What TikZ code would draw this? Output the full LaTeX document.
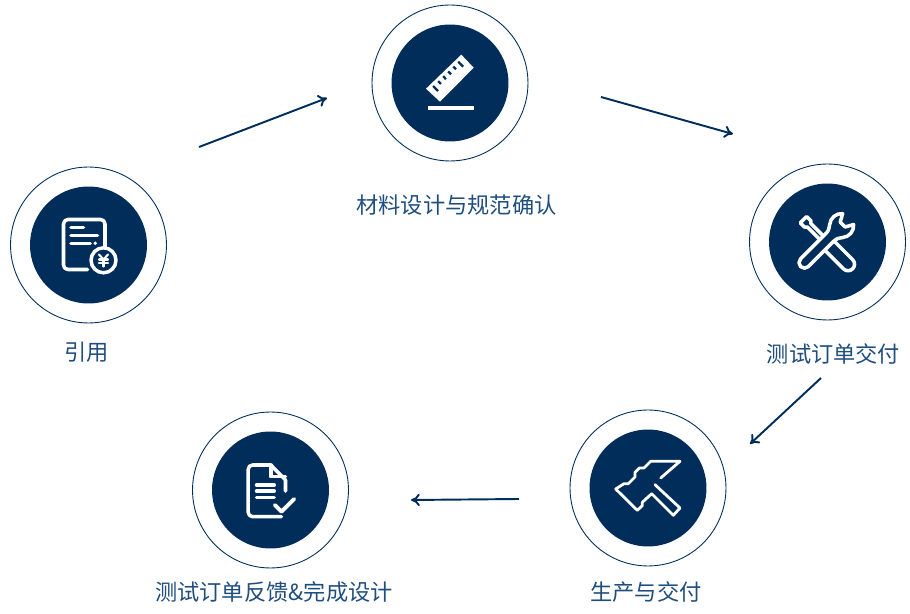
\documentclass[tikz,border=0pt]{standalone}
\usepackage{fontspec}
\usetikzlibrary{arrows.meta}
\newfontfamily\cjk{Noto Sans CJK SC}
\definecolor{navy}{HTML}{002D5A}
\definecolor{labelblue}{HTML}{1F4E7E}
\tikzset{
  font={\cjk\fontsize{12.65pt}{14pt}\selectfont},
  ring/.style={circle,draw=navy,line width=0.5pt,minimum size=156*0.569pt,inner sep=0pt},
  disc/.style={circle,fill=navy,minimum size=117*0.569pt,inner sep=0pt},
  steplabel/.style={text=labelblue,inner sep=0pt},
  flow/.style={navy,line width=1.1pt,-{To[length=5pt,width=7pt]}},
  icon/.style={draw=white,line width=2pt,line cap=round,line join=round}
}
\begin{document}
\begin{tikzpicture}[x=0.02cm,y=0.02cm]
\useasboundingbox (0,0) rectangle (910,-614);
% stations
\node [ring] (quotering) at (88.5,-245) {};
\node [disc] (quote) at (88.5,-245) {};
\node [ring] (designring) at (450,-83) {};
\node [disc] (design) at (450,-83) {};
\node [ring] (testring) at (827.5,-242) {};
\node [disc] (test) at (827.5,-242) {};
\node [ring] (makering) at (648,-488) {};
\node [disc] (make) at (648,-488) {};
\node [ring] (feedbackring) at (270.5,-490) {};
\node [disc] (feedback) at (270.5,-490) {};
% labels
\node [steplabel] (quotetext) at (87,-352) {引用};
\node [steplabel] (designtext) at (456.5,-205) {材料设计与规范确认};
\node [steplabel] (testtext) at (833.5,-354) {测试订单交付};
\node [steplabel] (maketext) at (646,-592) {生产与交付};
\node [steplabel] (feedbacktext) at (274,-592) {测试订单反馈\&完成设计};
% arrows
\coordinate (a1) at (199,-147);
\coordinate (a2) at (327,-98);
\coordinate (b1) at (601,-97);
\coordinate (b2) at (733,-134);
\coordinate (c1) at (821,-378);
\coordinate (c2) at (750,-444);
\coordinate (d1) at (519,-499);
\coordinate (d2) at (411,-500);
\draw [flow] (a1) -- (a2);
\draw [flow] (b1) -- (b2);
\draw [flow] (c1) -- (c2);
\draw [flow] (d1) -- (d2);
% quote icon
\begin{scope}[shift={(quote.center)}]
\draw [icon,rounded corners=2.5pt] (-1,-24.5) -- (-25,-24.5) -- (-25,25.5) -- (16.5,25.5) -- (16.5,-3);
\draw [icon] (-17.5,17.5) -- (-5,17.5);
\draw [icon] (-17.5,9.5) -- (9,9.5);
\draw [icon] (-17.5,1.7) -- (1.7,1.7);
\fill [white] (6.7,1.7) circle (1.9);
\draw [icon] (15,-15.3) circle (12.5);
\draw [icon,line width=1.2pt] (10.5,-9.5) -- (15,-14.5) -- (19.5,-9.5);
\draw [icon,line width=1.2pt] (15,-14.5) -- (15,-21.5);
\draw [icon,line width=1.2pt] (10.5,-14.5) -- (19.5,-14.5);
\draw [icon,line width=1.2pt] (10.5,-18) -- (19.5,-18);
\end{scope}
% ruler icon
\begin{scope}[shift={(design.center)}]
\fill [white] (-24,-5.7) -- (11.3,28.3) -- (23.7,15.3) -- (-10,-18.7) -- cycle;
\fill [white] (-22,-27) rectangle (24,-23);
\begin{scope}[shift={(-24,-5.7)},rotate=44]
\foreach \i/\len in {7/10,14/7,21/7,28/7,35/7,42/10}
  \draw [navy,line width=1.3pt] (\i,-3) -- (\i,-\len);
\end{scope}
\end{scope}
% tools icon
\begin{scope}[shift={(test.center)}]
\begin{scope}[shift={(-23,-20.7)},rotate=45]
\draw [icon] (0,5.5) arc (90:270:5.5) -- (36,-5.5)
  .. controls (40,-5.5) and (41.5,-7) .. (44.8,-9.2) arc (-130:-40:12)
  -- (54,-3.5) -- (54,3.5) -- (61.7,7.7) arc (40:130:12)
  .. controls (41.5,7) and (40,5.5) .. (36,5.5) -- cycle;
\end{scope}
\begin{scope}[shift={(-24,22.3)},rotate=-45]
\draw [icon] (24,-2.5) -- (8,-2.5) -- (6,-4.5) -- (0,-4.5) -- (0,4.5) -- (6,4.5) -- (8,2.5) -- (24,2.5);
\draw [icon] (38,-6.5) -- (63,-6.5) arc (-90:90:6.5) -- (38,6.5);
\end{scope}
\end{scope}
% hammer icon
\begin{scope}[shift={(make.center)}]
\draw [icon,line width=1.6pt] (12.7,10) -- (32,26.7) -- (2.7,26.7) -- (-4,20) -- (-8.7,20) -- (-13,15.7)
  -- (-13,11) -- (-19.7,4.3) -- (-24,4.3) -- (-32.3,-1) -- (-10.7,-22.3) -- (-5.7,-17.7)
  -- (-5.7,-14.3) -- (3.7,-5.7) -- (25.3,-27.3) -- (32,-20) -- (7,3.3);
\end{scope}
% feedback icon
\begin{scope}[shift={(feedback.center)}]
\draw [icon,rounded corners=2.5pt] (11,-26.7) -- (-22.3,-26.7) -- (-22.3,25) -- (0.3,25);
\draw [icon] (0.3,25) -- (15,10) -- (15,-1);
\draw [icon] (0.3,25) -- (0.3,13.3) -- (15,13.3);
\draw [icon] (-14,5) -- (3.7,5);
\draw [icon] (-14,-1) -- (3.7,-1);
\draw [icon] (-14,-7.3) -- (3.7,-7.3);
\draw [icon,line width=2.2pt] (4.3,-15) -- (11,-21.7) -- (23.7,-9);
\end{scope}
\end{tikzpicture}
\end{document}
